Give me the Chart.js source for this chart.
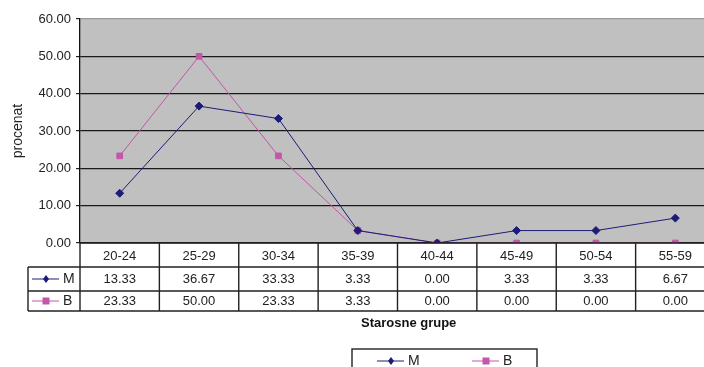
<!DOCTYPE html>
<html>
<head>
<meta charset="utf-8">
<script src="https://cdn.jsdelivr.net/npm/chart.js@4"></script>
<style>
  html, body { margin: 0; padding: 0; background: #fff; overflow: hidden; }
  #wrap { width: 704px; height: 367px; overflow: hidden; }
</style>
</head>
<body>
<div id="wrap"><canvas id="grafikon" width="720" height="367" style="width:720px;height:367px"></canvas></div>
<script>
// Starosne grupe i procenti po seriji
const kategorije = ['20-24', '25-29', '30-34', '35-39', '40-44', '45-49', '50-54', '55-59'];
const serijaM = [13.33, 36.67, 33.33, 3.33, 0.00, 3.33, 3.33, 6.67];
const serijaB = [23.33, 50.00, 23.33, 3.33, 0.00, 0.00, 0.00, 0.00];
const yTicks = [0, 10, 20, 30, 40, 50, 60];

const bojaM = '#1c1c78';
const bojaB = '#c455a8';
const font = 'Liberation Sans, Arial, sans-serif';

// pozadina plot-a
const pozadina = {
    id: 'pozadina',
    beforeDraw(chart) {
        const { ctx, chartArea: a } = chart;
        ctx.save();
        ctx.fillStyle = '#c0c0c0';
        ctx.fillRect(a.left, a.top, a.right - a.left, a.bottom - a.top);
        ctx.restore();
    }
};

// tabela sa podacima + legenda
const tabela = {
    id: 'tabela',
    afterDatasetsDraw(chart) {
        const { ctx, chartArea: a, scales: { x } } = chart;
        const w = x.getPixelForValue(1) - x.getPixelForValue(0);
        const rows = [a.bottom, a.bottom + 24, a.bottom + 48, a.bottom + 68];
        const keyLeft = 28;
        ctx.save();
        ctx.fillStyle = '#fff';
        ctx.fillRect(a.left + 1, a.bottom + 1, chart.width, chart.height - a.bottom);

        ctx.strokeStyle = '#222';
        ctx.lineWidth = 1.4;
        ctx.beginPath();
        // horizontalne linije
        ctx.moveTo(a.left, rows[0]); ctx.lineTo(a.right, rows[0]);
        for (let i = 1; i < rows.length; i++) {
            ctx.moveTo(keyLeft, rows[i]); ctx.lineTo(a.right, rows[i]);
        }
        // vertikalne linije
        ctx.moveTo(keyLeft, rows[1]); ctx.lineTo(keyLeft, rows[3]);
        for (let i = 0; i <= kategorije.length; i++) {
            const px = x.getPixelForValue(i) - w / 2;
            ctx.moveTo(px, rows[0]); ctx.lineTo(px, rows[3]);
        }
        ctx.stroke();

        ctx.fillStyle = '#222';
        ctx.font = '13px ' + font;
        ctx.textAlign = 'center';
        ctx.textBaseline = 'middle';
        kategorije.forEach((k, i) => {
            const px = x.getPixelForValue(i);
            ctx.fillText(k, px, (rows[0] + rows[1]) / 2 + 1);
            ctx.fillText(serijaM[i].toFixed(2), px, (rows[1] + rows[2]) / 2);
            ctx.fillText(serijaB[i].toFixed(2), px, (rows[2] + rows[3]) / 2);
        });

        const kljuc = (x0, y0, boja, tip, tekst) => {
            ctx.strokeStyle = boja;
            ctx.fillStyle = boja;
            ctx.lineWidth = 1;
            ctx.beginPath();
            ctx.moveTo(x0, y0); ctx.lineTo(x0 + 27, y0);
            ctx.stroke();
            const cx = x0 + 14;
            ctx.beginPath();
            if (tip === 'romb') {
                ctx.moveTo(cx, y0 - 4); ctx.lineTo(cx + 3, y0); ctx.lineTo(cx, y0 + 4); ctx.lineTo(cx - 3, y0);
            } else {
                ctx.rect(cx - 3.5, y0 - 3.5, 7, 7);
            }
            ctx.fill();
            ctx.fillStyle = '#222';
            ctx.font = '14px ' + font;
            ctx.textAlign = 'left';
            ctx.fillText(tekst, x0 + 31, y0 + 0.5);
        };
        kljuc(32, (rows[1] + rows[2]) / 2, bojaM, 'romb', 'M');
        kljuc(32, (rows[2] + rows[3]) / 2, bojaB, 'kvadrat', 'B');

        ctx.fillStyle = '#111';
        ctx.font = 'bold 13px ' + font;
        ctx.textAlign = 'left';
        ctx.fillText('Starosne grupe', 361, 323);

        // legenda
        ctx.strokeStyle = '#222';
        ctx.lineWidth = 1.4;
        ctx.strokeRect(352, 349, 185, 40);
        kljuc(377, 361, bojaM, 'romb', 'M');
        kljuc(472, 361, bojaB, 'kvadrat', 'B');
        ctx.restore();
    }
};

new Chart(document.getElementById('grafikon').getContext('2d'), {
    type: 'line',
    data: {
        labels: kategorije,
        datasets: [{
            label: 'M',
            data: serijaM,
            borderColor: bojaM,
            backgroundColor: bojaM,
            borderWidth: 1,
            pointStyle: 'rectRot',
            pointRadius: 4,
            tension: 0
        }, {
            label: 'B',
            data: serijaB,
            borderColor: bojaB,
            backgroundColor: bojaB,
            borderWidth: 1,
            pointStyle: 'rect',
            pointRadius: 4,
            tension: 0
        }]
    },
    options: {
        responsive: false,
        animation: false,
        layout: { padding: { top: 19, right: 4, bottom: 124, left: 0 } },
        scales: {
            x: {
                display: false,
                offset: true
            },
            y: {
                min: 0,
                max: 60,
                afterBuildTicks: (s) => { s.ticks = yTicks.map(v => ({ value: v })); },
                afterFit: (s) => { s.width = 80; },
                ticks: {
                    color: '#222',
                    font: { family: font, size: 13 },
                    padding: 5,
                    callback: (v) => Number(v).toFixed(2)
                },
                grid: {
                    color: (c) => c.tick && c.tick.value === 60 ? '#9a9a9a' : '#1a1a1a',
                    lineWidth: 1.2,
                    tickLength: 4,
                    tickColor: '#222'
                },
                border: { color: '#111', width: 1.3 },
                title: {
                    display: true,
                    text: 'procenat',
                    color: '#222',
                    font: { family: font, size: 14 },
                    padding: { top: 10, bottom: 0 }
                }
            }
        },
        plugins: {
            legend: { display: false },
            tooltip: { enabled: false }
        }
    },
    plugins: [pozadina, tabela]
});
</script>
</body>
</html>
